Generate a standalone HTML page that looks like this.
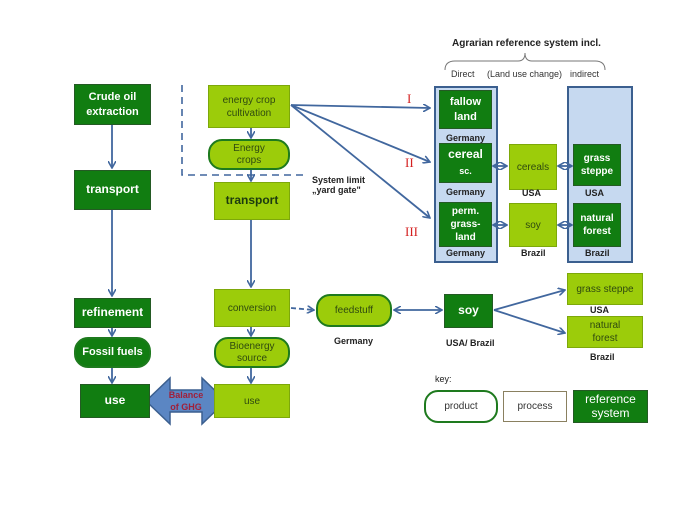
<!DOCTYPE html><html><head><meta charset="utf-8"><style>
body{margin:0;width:685px;height:513px;background:#fff;position:relative;overflow:hidden;font-family:"Liberation Sans",sans-serif}
.b{position:absolute;box-sizing:border-box;display:flex;align-items:center;justify-content:center;text-align:center;line-height:1.3}
.d{background:#117d11;border:1.5px solid #245a24;color:#fff;font-weight:bold;font-size:11px}
.l{background:#9ccc0a;border:1.5px solid #7da80a;color:#2f4a10;font-size:10px}
.p{border-radius:14px;border:2px solid #1e7a1e}
.t{position:absolute;font-size:9px;font-weight:bold;color:#222;white-space:nowrap}
.panel{position:absolute;box-sizing:border-box;background:#c6d9f0;border:2px solid #3b5f8f}
.r{position:absolute;color:#d42020;font-size:13px;font-family:"Liberation Serif",serif}
</style></head><body>
<div class="panel" style="left:434px;top:86px;width:64px;height:177px"></div>
<div class="panel" style="left:567px;top:86px;width:66px;height:177px"></div>
<svg style="position:absolute;left:0;top:0" width="685" height="513">
<defs><marker id="a" markerWidth="8" markerHeight="8" refX="7" refY="4" orient="auto" markerUnits="userSpaceOnUse"><path d="M0,0 L7,4 L0,8" fill="none" stroke="#41679e" stroke-width="1.6"/></marker>
<marker id="s" markerWidth="8" markerHeight="8" refX="1" refY="4" orient="auto" markerUnits="userSpaceOnUse"><path d="M8,0 L1,4 L8,8" fill="none" stroke="#41679e" stroke-width="1.6"/></marker></defs>
<g stroke="#41679e" stroke-width="1.8" fill="none">
<line x1="112" y1="125" x2="112" y2="168" marker-end="url(#a)"/>
<line x1="112" y1="210" x2="112" y2="296" marker-end="url(#a)"/>
<line x1="112" y1="328" x2="112" y2="336" marker-end="url(#a)"/>
<line x1="112" y1="368" x2="112" y2="383" marker-end="url(#a)"/>
<line x1="251" y1="128" x2="251" y2="138" marker-end="url(#a)"/>
<line x1="251" y1="170" x2="251" y2="181" marker-end="url(#a)"/>
<line x1="251" y1="220" x2="251" y2="287" marker-end="url(#a)"/>
<line x1="251" y1="327" x2="251" y2="336" marker-end="url(#a)"/>
<line x1="251" y1="368" x2="251" y2="383" marker-end="url(#a)"/>
<line x1="291" y1="308" x2="314" y2="310" stroke-dasharray="5,3" marker-end="url(#a)"/>
<line x1="394" y1="310" x2="442" y2="310" marker-start="url(#s)" marker-end="url(#a)"/>
<line x1="494" y1="310" x2="565" y2="290" marker-end="url(#a)"/>
<line x1="494" y1="310" x2="565" y2="333" marker-end="url(#a)"/>
<line x1="291" y1="105" x2="430" y2="108" marker-end="url(#a)"/>
<line x1="291" y1="105" x2="430" y2="162" marker-end="url(#a)"/>
<line x1="291" y1="105" x2="430" y2="218" marker-end="url(#a)"/>
<line x1="493" y1="166" x2="507" y2="166" marker-start="url(#s)" marker-end="url(#a)"/>
<line x1="558" y1="166" x2="572" y2="166" marker-start="url(#s)" marker-end="url(#a)"/>
<line x1="493" y1="225" x2="507" y2="225" marker-start="url(#s)" marker-end="url(#a)"/>
<line x1="558" y1="225" x2="572" y2="225" marker-start="url(#s)" marker-end="url(#a)"/>
<path d="M182,85 V175 H305" stroke="#41679e" stroke-dasharray="7,5" stroke-width="1.6"/>
</g>
<path d="M445,70 Q445,61 455,61 H518 Q525,61 525,53 Q525,61 532,61 H595 Q605,61 605,70" fill="none" stroke="#777" stroke-width="1"/>
<polygon points="146,401 170,378 170,390 202,390 202,378 226,401 202,424 202,412 170,412 170,424" fill="#5b86c3" stroke="#3b5f8f" stroke-width="1.5"/>
<text x="186" y="398" font-size="9" font-weight="bold" fill="#a0203a" text-anchor="middle" font-family="Liberation Sans">Balance</text>
<text x="186" y="410" font-size="9" font-weight="bold" fill="#a0203a" text-anchor="middle" font-family="Liberation Sans">of GHG</text>
</svg>
<div class="b d" style="left:74px;top:84px;width:77px;height:41px">Crude oil<br>extraction</div>
<div class="b d" style="left:74px;top:170px;width:77px;height:40px;font-size:12px">transport</div>
<div class="b d" style="left:74px;top:298px;width:77px;height:30px;font-size:12px">refinement</div>
<div class="b d p" style="left:74px;top:337px;width:77px;height:31px;border-color:#1e7a1e">Fossil fuels</div>
<div class="b d" style="left:80px;top:384px;width:70px;height:34px;font-size:12px">use</div>
<div class="b l" style="left:208px;top:85px;width:82px;height:43px">energy crop<br>cultivation</div>
<div class="b l p" style="left:208px;top:139px;width:82px;height:31px;line-height:1.2">Energy<br>crops</div>
<div class="b l" style="left:214px;top:182px;width:76px;height:38px;font-size:12px;font-weight:bold;color:#1c3a10">transport</div>
<div class="b l" style="left:214px;top:289px;width:76px;height:38px">conversion</div>
<div class="b l p" style="left:214px;top:337px;width:76px;height:31px;line-height:1.2">Bioenergy<br>source</div>
<div class="b l" style="left:214px;top:384px;width:76px;height:34px">use</div>
<div class="t" style="left:312px;top:175px">System limit<br>„yard gate"</div>
<div class="b l p" style="left:316px;top:294px;width:76px;height:33px">feedstuff</div>
<div class="t" style="left:334px;top:336px">Germany</div>
<div class="b d" style="left:444px;top:294px;width:49px;height:34px;font-size:12px">soy</div>
<div class="t" style="left:446px;top:338px">USA/ Brazil</div>
<div class="b l" style="left:567px;top:273px;width:76px;height:32px">grass steppe</div>
<div class="t" style="left:590px;top:305px">USA</div>
<div class="b l" style="left:567px;top:316px;width:76px;height:32px">natural<br>forest</div>
<div class="t" style="left:590px;top:352px">Brazil</div>
<div class="t" style="left:435px;top:374px;font-weight:normal">key:</div>
<div class="b p" style="left:424px;top:390px;width:74px;height:33px;font-size:10px;color:#333;border-color:#1e7a1e">product</div>
<div class="b" style="left:503px;top:391px;width:64px;height:31px;font-size:10px;color:#333;border:1.5px solid #8a8060">process</div>
<div class="b d" style="left:573px;top:390px;width:75px;height:33px;font-weight:normal;font-size:12px;line-height:1.1">reference<br>system</div>
<div class="t" style="left:452px;top:38px;font-size:10px">Agrarian reference system incl.</div>
<div class="t" style="left:451px;top:69px;font-weight:normal;color:#333">Direct</div>
<div class="t" style="left:487px;top:69px;font-weight:normal;color:#333">(Land use change)</div>
<div class="t" style="left:570px;top:69px;font-weight:normal;color:#333">indirect</div>
<div class="b d" style="left:439px;top:90px;width:53px;height:39px">fallow<br>land</div>
<div class="t" style="left:446px;top:133px">Germany</div>
<div class="b d" style="left:439px;top:143px;width:53px;height:40px;font-size:12px"><div>cereal<br><span style="font-size:9px">sc.</span></div></div>
<div class="t" style="left:446px;top:187px">Germany</div>
<div class="b d" style="left:439px;top:202px;width:53px;height:45px;font-size:10px">perm.<br>grass-<br>land</div>
<div class="t" style="left:446px;top:248px">Germany</div>
<div class="b l" style="left:509px;top:144px;width:48px;height:46px">cereals</div>
<div class="t" style="left:522px;top:188px">USA</div>
<div class="b l" style="left:509px;top:203px;width:48px;height:44px">soy</div>
<div class="t" style="left:521px;top:248px">Brazil</div>
<div class="b d" style="left:573px;top:144px;width:48px;height:42px;font-size:10px">grass<br>steppe</div>
<div class="t" style="left:585px;top:188px">USA</div>
<div class="b d" style="left:573px;top:203px;width:48px;height:44px;font-size:10px">natural<br>forest</div>
<div class="t" style="left:585px;top:248px">Brazil</div>
<div class="r" style="left:407px;top:91px">I</div>
<div class="r" style="left:405px;top:155px">II</div>
<div class="r" style="left:405px;top:224px">III</div>
</body></html>
